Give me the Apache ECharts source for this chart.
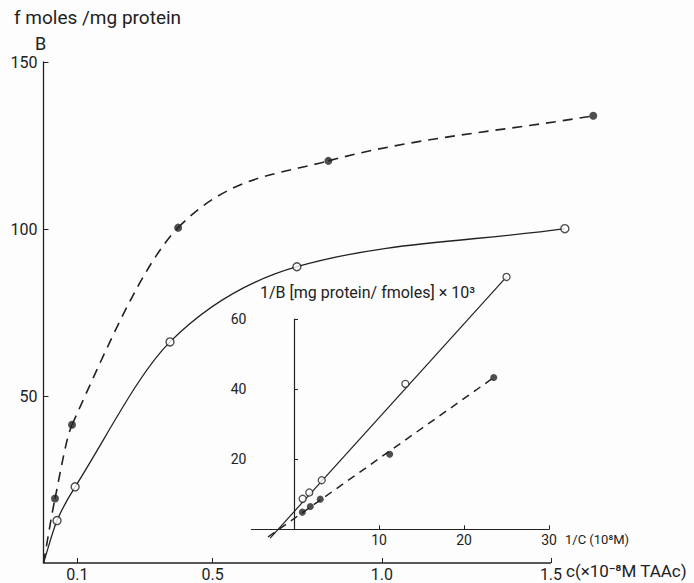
<!DOCTYPE html>
<html>
<head>
<meta charset="utf-8">
<title>Binding curve</title>
<script src="https://cdn.jsdelivr.net/npm/echarts@6/dist/echarts.min.js"></script>
<style>
  html, body { margin: 0; padding: 0; background: #fdfdfd; }
  #chart { width: 694px; height: 583px; }
</style>
</head>
<body>
<div id="chart"></div>
<script>
// main plot: B (fmoles/mg protein) against c (x10^-8 M TAAc)
var curveStart = [0, 0];
var cOpen = [0.04, 0.0935, 0.374, 0.749, 1.541];
var bOpen = [12.7, 22.8, 66.2, 88.7, 100.1];
var cFilled = [0.034, 0.0843, 0.398, 0.842, 1.625];
var bFilled = [19.3, 41.4, 100.4, 120.4, 133.9];
var mainXTicks = [0.1, 0.5, 1.0, 1.5];
var mainXAxisLine = [[0, 0], [1.5, 0]];

// inset: double reciprocal plot, 1/B against 1/C
var invCOpen = [1.02, 1.8, 3.26, 13.1, 25.0];
var invBOpen = [8.7, 10.5, 14.0, 41.5, 72.0];
var invCFilled = [0.98, 1.92, 3.09, 11.26, 23.5];
var invBFilled = [4.9, 6.5, 8.6, 21.4, 43.3];
var openLineStart = [-2.8, -2.5];
var filledLineStart = [-3.06, -2.2];
var insetXTicks = [10, 20, 30];

var ink = '#222';
var font = 'Roboto, "DejaVu Sans", sans-serif';

function pairs(xs, ys) {
    return xs.map(function (x, i) { return [x, ys[i]]; });
}

// smooth curve through the points: cubic pieces, tangent at each point
// taken from its neighbours; points placed with the chart's axes (api.coord)
function curveSeries(name, pts, lineStyle) {
    return {
        name: name, type: 'custom', xAxisIndex: 0, yAxisIndex: 0,
        data: pts, clip: false, silent: true,
        renderItem: function (params, api) {
            if (params.dataIndex !== 0) return null;
            var p = pts.map(function (d) { return api.coord(d); });
            var n = p.length, h = [], d = [], m = [];
            for (var k = 0; k < n - 1; k++) {
                h[k] = p[k + 1][0] - p[k][0];
                d[k] = (p[k + 1][1] - p[k][1]) / h[k];
            }
            m[0] = d[0];
            m[n - 1] = d[n - 2];
            for (k = 1; k < n - 1; k++) {
                m[k] = (p[k + 1][1] - p[k - 1][1]) / (p[k + 1][0] - p[k - 1][0]);
            }
            var children = [];
            for (k = 0; k < n - 1; k++) {
                children.push({
                    type: 'bezierCurve',
                    shape: {
                        x1: p[k][0], y1: p[k][1],
                        cpx1: p[k][0] + h[k] / 3, cpy1: p[k][1] + m[k] * h[k] / 3,
                        cpx2: p[k + 1][0] - h[k] / 3, cpy2: p[k + 1][1] - m[k + 1] * h[k] / 3,
                        x2: p[k + 1][0], y2: p[k + 1][1]
                    },
                    style: lineStyle
                });
            }
            return { type: 'group', children: children };
        }
    };
}

var chart = echarts.init(document.getElementById('chart'), null, { renderer: 'svg' });

var option = {
    backgroundColor: '#fdfdfd',
    animation: false,
    textStyle: { fontFamily: font, color: ink },
    grid: [
        // x runs past 1.5 so the last points fit; the drawn axis stops at 1.5
        { left: 43.5, right: 7.7, top: 62, bottom: 20 },
        { left: 251.5, right: 145, top: 319, bottom: 53.7 }
    ],
    xAxis: [
        {
            type: 'value', gridIndex: 0, min: 0, max: 1.9,
            splitLine: { show: false },
            axisLine: { show: false },
            axisTick: { show: true, inside: true, length: 5, customValues: mainXTicks, lineStyle: { color: ink } },
            axisLabel: {
                customValues: mainXTicks, margin: 3, fontSize: 16, color: ink,
                formatter: function (v) { return v.toFixed(1); }
            }
        },
        {
            type: 'value', gridIndex: 1, min: -5, max: 30,
            splitLine: { show: false },
            axisLine: { show: true, lineStyle: { color: ink, width: 1.2 } },
            axisTick: { show: true, inside: true, length: 4, customValues: insetXTicks, lineStyle: { color: ink } },
            axisLabel: { customValues: insetXTicks, margin: 4, fontSize: 14, color: ink }
        }
    ],
    yAxis: [
        {
            type: 'value', gridIndex: 0, min: 0, max: 150, interval: 50,
            splitLine: { show: false },
            axisLine: { show: true, onZero: false, lineStyle: { color: ink, width: 1.3 } },
            axisTick: { show: true, inside: true, length: 5, lineStyle: { color: ink } },
            axisLabel: { showMinLabel: false, margin: 6, fontSize: 16, color: ink }
        },
        {
            type: 'value', gridIndex: 1, min: 0, max: 60, interval: 20,
            splitLine: { show: false },
            axisLine: { show: true, onZero: true, lineStyle: { color: ink, width: 1.2 } },
            axisTick: { show: true, inside: true, length: 4, lineStyle: { color: ink } },
            axisLabel: { showMinLabel: false, margin: 5, fontSize: 14, color: ink }
        }
    ],
    series: [
        {
            name: 'c axis', type: 'line', xAxisIndex: 0, yAxisIndex: 0,
            data: mainXAxisLine, showSymbol: false, clip: false, silent: true,
            lineStyle: { color: ink, width: 1.3 }
        },
        curveSeries('open curve', [curveStart].concat(pairs(cOpen, bOpen)),
            { stroke: ink, lineWidth: 1.3, fill: 'none' }),
        curveSeries('filled curve', [curveStart].concat(pairs(cFilled, bFilled)),
            { stroke: ink, lineWidth: 1.6, fill: 'none', lineDash: [10, 7] }),
        {
            name: 'open', type: 'scatter', xAxisIndex: 0, yAxisIndex: 0,
            data: pairs(cOpen, bOpen), symbolSize: 8, z: 5,
            itemStyle: { color: '#fff', borderColor: ink, borderWidth: 1.4 }
        },
        {
            name: 'filled', type: 'scatter', xAxisIndex: 0, yAxisIndex: 0,
            data: pairs(cFilled, bFilled), symbolSize: 8, z: 5,
            itemStyle: { color: ink }
        },
        {
            name: 'open line', type: 'line', xAxisIndex: 1, yAxisIndex: 1,
            data: [openLineStart, [invCOpen[4], invBOpen[4]]],
            showSymbol: false, clip: false,
            lineStyle: { color: ink, width: 1.2 }
        },
        {
            name: 'filled line', type: 'line', xAxisIndex: 1, yAxisIndex: 1,
            data: [filledLineStart, [invCFilled[4], invBFilled[4]]],
            showSymbol: false, clip: false,
            lineStyle: { color: ink, width: 1.5, type: [8, 6] }
        },
        {
            name: 'open inv', type: 'scatter', xAxisIndex: 1, yAxisIndex: 1, clip: false,
            data: pairs(invCOpen, invBOpen), symbolSize: 7, z: 5,
            itemStyle: { color: '#fff', borderColor: ink, borderWidth: 1.3 }
        },
        {
            name: 'filled inv', type: 'scatter', xAxisIndex: 1, yAxisIndex: 1, clip: false,
            data: pairs(invCFilled, invBFilled), symbolSize: 7, z: 5,
            itemStyle: { color: ink }
        }
    ],
    graphic: [
        { type: 'text', left: 14, top: 8, style: { text: 'f moles /mg protein', font: '19px ' + font, fill: ink } },
        { type: 'text', left: 35, top: 34, style: { text: 'B', font: '18px ' + font, fill: ink } },
        { type: 'text', left: 566, top: 562, style: { text: 'c(×10⁻⁸M TAAc)', font: '17px ' + font, fill: ink } },
        { type: 'text', left: 260, top: 284, style: { text: '1/B [mg protein/ fmoles] × 10³', font: '16px ' + font, fill: ink } },
        { type: 'text', left: 565, top: 533, style: { text: '1/C (10⁸M)', font: '13px ' + font, fill: ink } }
    ]
};

option && chart.setOption(option);
</script>
</body>
</html>
